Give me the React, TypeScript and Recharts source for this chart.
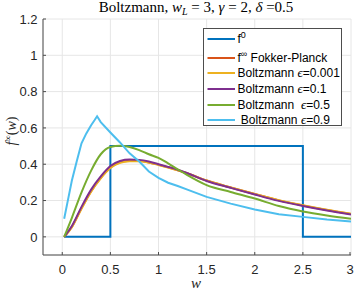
import React from "react"
import { LineChart, Line, XAxis, YAxis, CartesianGrid } from "recharts"

// shared w grid for the smooth curves
const wGrid = [0.02, 0.1, 0.2, 0.3, 0.4, 0.5, 0.6, 0.7, 0.8, 0.9, 1.0, 1.1, 1.2, 1.3, 1.5, 1.75, 2.0, 2.25, 2.5, 2.75, 3.0]

const fokkerPlanck = [0, 0.055, 0.158, 0.252, 0.325, 0.382, 0.41, 0.419, 0.418, 0.41, 0.397, 0.383, 0.367, 0.35, 0.31, 0.272, 0.236, 0.201, 0.173, 0.148, 0.126]
const eps0001 = [0, 0.053, 0.155, 0.249, 0.322, 0.379, 0.408, 0.417, 0.417, 0.409, 0.396, 0.382, 0.366, 0.349, 0.31, 0.272, 0.236, 0.202, 0.174, 0.149, 0.127]
const eps01 = [0, 0.06, 0.165, 0.26, 0.333, 0.39, 0.418, 0.426, 0.424, 0.415, 0.4, 0.385, 0.37, 0.35, 0.308, 0.27, 0.233, 0.198, 0.17, 0.145, 0.123]
const eps05 = [0, 0.105, 0.245, 0.365, 0.455, 0.495, 0.502, 0.495, 0.478, 0.455, 0.435, 0.405, 0.372, 0.34, 0.285, 0.247, 0.211, 0.17, 0.14, 0.118, 0.1]

// eps = 0.9 has a sharp peak, own grid
const wEps09 = [0.02, 0.06, 0.1, 0.15, 0.2, 0.25, 0.3, 0.335, 0.362, 0.4, 0.5, 0.6, 0.7, 0.8, 0.9, 1.0, 1.1, 1.2, 1.3, 1.5, 1.75, 2.0, 2.25, 2.5, 2.75, 3.0]
const eps09 = [0.1, 0.205, 0.31, 0.415, 0.515, 0.57, 0.615, 0.642, 0.664, 0.632, 0.575, 0.52, 0.46, 0.415, 0.36, 0.325, 0.298, 0.28, 0.26, 0.22, 0.183, 0.151, 0.125, 0.11, 0.095, 0.085]

// initial datum f0
const wF0 = [0.02, 0.5, 0.5, 2.5, 2.5, 3.0]
const f0 = [0, 0, 0.5, 0.5, 0, 0]

const xTicks = [0, 0.5, 1, 1.5, 2, 2.5, 3]
const yTicks = [0, 0.2, 0.4, 0.6, 0.8, 1, 1.2]

const toPoints = (w: number[], v: number[]) => w.map((x, i) => ({ w: x, f: v[i] }))

const eps = (s: string) => (
    <span style={{ fontFamily: "Liberation Serif", fontStyle: "italic", fontSize: 13 }}>{s}</span>
)
const sup = (s: string) => (
    <span style={{ fontSize: 9, position: "relative", top: -5 }}>{s}</span>
)

const series = [
    { key: "f0", color: "#0072BD", data: toPoints(wF0, f0), type: "linear", label: <>f{sup("0")}</>, row: 10.3 },
    { key: "fp", color: "#D95319", data: toPoints(wGrid, fokkerPlanck), type: "monotone", label: <>f{sup("∞")} Fokker-Planck</>, row: 28.5 },
    { key: "e0001", color: "#EDB120", data: toPoints(wGrid, eps0001), type: "monotone", label: <>Boltzmann {eps("ϵ")}=0.001</>, row: 44.2 },
    { key: "e01", color: "#7E2F8E", data: toPoints(wGrid, eps01), type: "monotone", label: <>Boltzmann {eps("ϵ")}=0.1</>, row: 59.7 },
    { key: "e05", color: "#77AC30", data: toPoints(wGrid, eps05), type: "monotone", label: <>Boltzmann  {eps("ϵ")}=0.5</>, row: 75.6 },
    { key: "e09", color: "#4DBEEE", data: toPoints(wEps09, eps09), type: "linear", label: <> Boltzmann {eps("ϵ")}=0.9</>, row: 91.2 },
]

const fmt = (v: number) => String(Math.round(v * 10) / 10)

const XTick = (props: any) => {
    const { x, y, payload } = props
    return (
        <g>
            <line x1={x} y1={y} x2={x} y2={y - 3} stroke="#4d4d4d" />
            <text x={x} y={y + 19} textAnchor="middle" fontFamily="Liberation Sans" fontSize={13} fill="#262626">
                {fmt(payload.value)}
            </text>
        </g>
    )
}

const YTick = (props: any) => {
    const { x, y, payload } = props
    return (
        <g>
            <line x1={x} y1={y} x2={x + 3} y2={y} stroke="#4d4d4d" />
            <text x={x - 5.5} y={y + 4.7} textAnchor="end" fontFamily="Liberation Sans" fontSize={13} fill="#262626">
                {fmt(payload.value)}
            </text>
        </g>
    )
}

export default function App() {
    return (
        <div style={{ position: "absolute", left: 0, top: 0, width: 354, height: 291, background: "#fff" }}>
            <LineChart width={354} height={291} margin={{ top: 19, right: 3, bottom: 16, left: 0 }}>
                <CartesianGrid stroke="#e6e6e6" />
                <XAxis
                    type="number"
                    dataKey="w"
                    domain={[-0.2, 3]}
                    ticks={xTicks}
                    allowDataOverflow
                    height={20}
                    tickSize={0}
                    tickMargin={0}
                    tickLine={false}
                    axisLine={{ stroke: "#4d4d4d" }}
                    tick={XTick}
                    allowDuplicatedCategory={false}
                />
                <YAxis
                    type="number"
                    domain={[-0.1, 1.2]}
                    ticks={yTicks}
                    allowDataOverflow
                    width={43}
                    tickSize={0}
                    tickMargin={0}
                    tickLine={false}
                    axisLine={{ stroke: "#4d4d4d" }}
                    tick={YTick}
                />
                {series.map((s) => (
                    <Line
                        key={s.key}
                        data={s.data}
                        dataKey="f"
                        type={s.type as any}
                        stroke={s.color}
                        strokeWidth={2}
                        dot={false}
                        isAnimationActive={false}
                    />
                ))}
            </LineChart>

            <svg width={354} height={291} style={{ position: "absolute", left: 0, top: 0, pointerEvents: "none" }}>
                <text x={196} y={12} textAnchor="middle" fontFamily="Liberation Serif" fontSize={15} fill="#000">
                    Boltzmann, <tspan fontStyle="italic">w</tspan>
                    <tspan fontStyle="italic" fontSize={10} dy={3}>L</tspan>
                    <tspan dy={-3}> = 3, </tspan>
                    <tspan fontStyle="italic">γ</tspan> = 2, <tspan fontStyle="italic">δ</tspan> =0.5
                </text>
                <text
                    x={16}
                    y={131}
                    transform="rotate(-90 16 131)"
                    textAnchor="middle"
                    fontFamily="Liberation Serif"
                    fontSize={14}
                    fill="#262626"
                >
                    <tspan fontStyle="italic">f</tspan>
                    <tspan fontSize={9} dy={-5}>∞</tspan>
                    <tspan dy={5}>(</tspan>
                    <tspan fontStyle="italic">w</tspan>)
                </text>
                <text x={196} y={288} textAnchor="middle" fontFamily="Liberation Serif" fontStyle="italic" fontSize={15} fill="#262626">
                    w
                </text>
            </svg>

            <div
                style={{
                    position: "absolute",
                    left: 203,
                    top: 28,
                    width: 139,
                    height: 98,
                    boxSizing: "border-box",
                    border: "1px solid #4d4d4d",
                    background: "#fff",
                    fontFamily: "Liberation Sans",
                    fontSize: 12,
                    color: "#000",
                }}
            >
                {series.map((s) => (
                    <div key={s.key} style={{ position: "absolute", left: 0, top: s.row - 8, height: 16, width: 137 }}>
                        <svg width={32} height={16} style={{ position: "absolute", left: 0, top: 0 }}>
                            <line x1={3.5} y1={8} x2={31} y2={8} stroke={s.color} strokeWidth={2} />
                        </svg>
                        <span style={{ position: "absolute", left: 33.5, top: 0, lineHeight: "16px", whiteSpace: "pre" }}>
                            {s.label}
                        </span>
                    </div>
                ))}
            </div>
        </div>
    )
}
